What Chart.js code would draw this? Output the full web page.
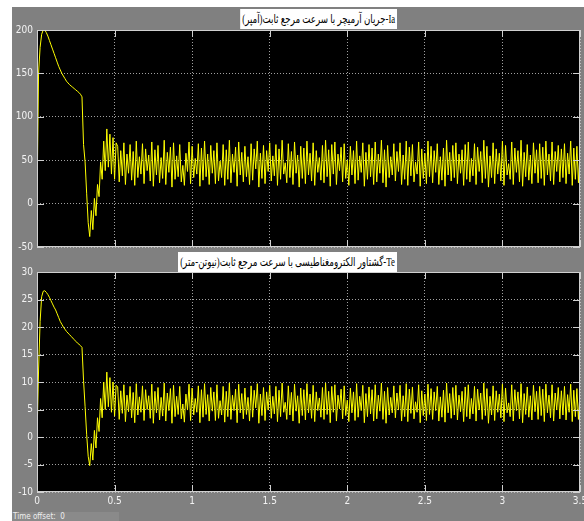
<!DOCTYPE html>
<html>
<head>
<meta charset="utf-8">
<script src="https://cdn.jsdelivr.net/npm/chart.js@4/dist/chart.umd.min.js"></script>
<style>
  body { margin: 0; width: 584px; height: 521px; background: #fff; overflow: hidden; position: relative; }
  #panel { position: absolute; left: 12px; top: 7px; width: 572px; height: 514px; background: #808080; }
  canvas { position: absolute; }
  #topCanvas { left: 12px; top: 7px; }
  #bottomCanvas { left: 12px; top: 257px; }
  .title { position: absolute; right: 187px; background: #fff; color: #000; height: 20px; line-height: 20px;
           font-family: "Liberation Serif", "DejaVu Sans", serif; font-size: 12px; white-space: nowrap; padding: 0 3px;
           transform-origin: right center; }
  #offset { position: absolute; left: 12px; top: 512px; width: 106px; height: 9px; background: #8a8a8a;
            color: #eee; font: 8px "DejaVu Sans Condensed", sans-serif; line-height: 9px; padding-left: 1px; }
</style>
</head>
<body>
<div id="panel"></div>
<canvas id="topCanvas" width="588" height="250"></canvas>
<canvas id="bottomCanvas" width="588" height="264"></canvas>
<div class="title" id="topTitle" dir="rtl" style="top:9px">Ia-جریان آرمیچر با سرعت مرجع ثابت(آمپر)</div>
<div class="title" id="bottomTitle" dir="rtl" style="top:252px">Te-گشتاور الکترومغناطیسی با سرعت مرجع ثابت(نیوتن-متر)</div>
<div id="offset">Time offset:&nbsp; 0</div>
<script>
// sample spacing of the scope traces (s)
const timeStep = 0.01;

// armature current Ia (A), one value per timeStep from t = 0
const currentIa = [
  0, 150, 180, 195, 200, 200, 197, 193, 188, 183,
  178, 173, 168, 163, 158, 154, 150, 147, 144, 141,
  139, 137, 135.5, 134, 132.5, 131, 129.5, 128, 126, 123,
  68, 48, 12, -22, -38, -8, -30, 6, -14, 22,
  8, 48, 28, 72, 38, 86, 42, 80, 34, 76,
  28, 70,
  66, 25, 61, 32, 70, 22, 57, 35, 68, 27,
  60, 21, 72, 30, 54, 34, 69, 23, 63, 38,
  56, 26, 71, 20, 62, 33, 67, 24, 53, 29,
  73, 22, 59, 36, 65, 19, 70, 28, 55, 31,
  68, 25, 44, 21, 58, 37, 71, 23, 66, 30,
  52, 34, 69, 20, 64, 27, 72, 31, 57, 22,
  67, 35, 61, 23, 70, 26, 49, 30, 68, 21,
  62, 28, 73, 24, 57, 36, 65, 20, 71, 33,
  59, 25, 66, 31, 54, 22, 69, 27, 63, 40,
  72, 19, 58, 29, 67, 23, 61, 37, 70, 26,
  55, 32, 68, 21, 63, 28, 73, 34, 47, 24,
  69, 30, 60, 22, 71, 35, 56, 19, 66, 29,
  64, 23, 72, 33, 58, 26, 70, 21, 61, 36,
  53, 27, 67, 24, 73, 31, 62, 20, 68, 34,
  71, 22, 57, 38, 65, 25, 69, 29, 50, 21,
  66, 33, 61, 23, 72, 27, 55, 36, 70, 20,
  59, 28, 68, 31, 64, 22, 71, 25, 57, 35,
  73, 24, 62, 19, 67, 30, 54, 33, 69, 26,
  60, 37, 70, 22, 56, 28, 72, 21, 65, 32,
  68, 25, 48, 34, 71, 20, 63, 29, 58, 23,
  72, 31, 66, 24, 61, 36, 69, 22, 54, 27,
  64, 20, 73, 33, 59, 26, 67, 30, 70, 23,
  57, 35, 62, 21, 68, 28, 71, 25, 52, 32,
  69, 22, 65, 37, 60, 24, 73, 29, 66, 19,
  55, 30, 70, 23, 63, 34, 58, 26, 72, 21,
  67, 33, 46, 28, 71, 22, 64, 36, 61, 25,
  73, 20, 59, 31, 68, 27, 56, 23, 70, 35,
  62, 24, 69, 29, 65, 21, 72, 33, 57, 26,
  71, 22, 60, 37, 67, 25, 63, 30, 69, 23,
  58, 34, 72, 21, 64, 28, 66, 24, 61
];

// electromagnetic torque Te (N.m), same time base
const torqueTe = [
  0, 12, 21, 25.5, 26.5, 26.6, 26.3, 25.9, 25.4, 24.8,
  24.2, 23.6, 23.1, 22.4, 21.7, 21.0, 20.5, 20.0, 19.6, 19.2,
  18.9, 18.6, 18.3, 18.0, 17.7, 17.4, 17.1, 16.9, 16.6, 16.3,
  10.3, 5.5, 0.5, -3.5, -5.2, -1.2, -4.2, 1.2, -2, 3.5,
  1, 7, 3.5, 10, 5, 11.8, 5.5, 10.8, 4.5, 10,
  3.8, 9.4,
  9.1, 3.2, 8.4, 4.3, 9.5, 2.8, 7.6, 4.6, 9.2, 3.5,
  8.1, 2.6, 9.7, 4.0, 7.3, 4.5, 9.3, 3.0, 8.6, 5.0,
  7.5, 3.4, 9.6, 2.5, 8.3, 4.4, 9.0, 3.1, 7.2, 3.8,
  9.8, 2.9, 8.0, 4.8, 8.8, 2.5, 9.4, 3.7, 7.4, 4.1,
  9.2, 3.3, 6.0, 2.7, 7.8, 4.9, 9.6, 3.0, 8.9, 4.0,
  7.0, 4.5, 9.3, 2.6, 8.6, 3.6, 9.7, 4.1, 7.7, 2.9,
  9.0, 4.7, 8.2, 3.0, 9.5, 3.4, 6.6, 4.0, 9.2, 2.7,
  8.3, 3.7, 9.8, 3.2, 7.6, 4.8, 8.7, 2.6, 9.6, 4.4,
  7.9, 3.3, 8.9, 4.1, 7.2, 2.9, 9.3, 3.6, 8.5, 5.3,
  9.7, 2.5, 7.8, 3.9, 9.0, 3.0, 8.2, 4.9, 9.4, 3.4,
  7.4, 4.2, 9.2, 2.8, 8.5, 3.7, 9.8, 4.5, 6.3, 3.2,
  9.3, 4.0, 8.1, 2.9, 9.6, 4.7, 7.5, 2.5, 8.9, 3.9,
  8.6, 3.1, 9.7, 4.4, 7.8, 3.4, 9.4, 2.8, 8.2, 4.8,
  7.1, 3.6, 9.0, 3.2, 9.8, 4.1, 8.3, 2.6, 9.2, 4.5,
  9.5, 2.9, 7.6, 5.1, 8.7, 3.3, 9.3, 3.9, 6.7, 2.8,
  8.9, 4.4, 8.2, 3.0, 9.7, 3.6, 7.4, 4.8, 9.4, 2.6,
  7.9, 3.7, 9.1, 4.2, 8.6, 2.9, 9.5, 3.3, 7.6, 4.7,
  9.8, 3.2, 8.3, 2.5, 9.0, 4.0, 7.2, 4.4, 9.3, 3.5,
  8.0, 4.9, 9.4, 2.9, 7.5, 3.7, 9.7, 2.8, 8.7, 4.3,
  9.1, 3.3, 6.4, 4.5, 9.5, 2.6, 8.4, 3.9, 7.8, 3.0,
  9.6, 4.1, 8.8, 3.2, 8.2, 4.8, 9.2, 2.9, 7.3, 3.6,
  8.5, 2.7, 9.8, 4.4, 7.9, 3.4, 9.0, 4.0, 9.4, 3.1,
  7.6, 4.6, 8.3, 2.8, 9.1, 3.7, 9.5, 3.3, 7.0, 4.2,
  9.2, 2.9, 8.7, 4.9, 8.0, 3.2, 9.8, 3.9, 8.8, 2.5,
  7.4, 4.0, 9.3, 3.0, 8.4, 4.5, 7.8, 3.5, 9.6, 2.8,
  8.9, 4.4, 6.2, 3.7, 9.5, 2.9, 8.6, 4.8, 8.2, 3.3,
  9.7, 2.6, 7.9, 4.1, 9.1, 3.6, 7.5, 3.1, 9.4, 4.6,
  8.3, 3.2, 9.2, 3.9, 8.7, 2.8, 9.6, 4.4, 7.6, 3.5,
  9.5, 2.9, 8.0, 4.9, 9.0, 3.3, 8.4, 4.0, 9.2, 3.1,
  7.7, 4.5, 9.6, 2.8, 8.5, 3.7, 8.8, 3.2, 8.1
];

// axis ranges as on the scope
const timeRange = [0, 3.5];
const iaRange = [-50, 200];
const teRange = [-10, 30];

const toPoints = function (values) {
    return values.map(function (v, i) { return { x: i * timeStep, y: v }; });
};

// squeeze the title boxes to the width they have on the scope
const fitTitle = function (id, width) {
    const el = document.getElementById(id);
    el.style.transform = 'scaleX(' + (width / el.offsetWidth) + ')';
};
fitTitle('topTitle', 157);
fitTitle('bottomTitle', 219);

// black plot area, light frame and inward tick marks like the scope
const scopeFrame = {
    id: 'scopeFrame',
    beforeDraw: function (chart) {
        const a = chart.chartArea;
        chart.ctx.save();
        chart.ctx.fillStyle = '#000';
        chart.ctx.fillRect(a.left, a.top, a.right - a.left, a.bottom - a.top);
        chart.ctx.restore();
    },
    afterDraw: function (chart) {
        const ctx = chart.ctx, a = chart.chartArea;
        ctx.save();
        ctx.strokeStyle = '#d0d0d0';
        ctx.lineWidth = 1;
        ctx.strokeRect(a.left + 0.5, a.top + 0.5, a.right - a.left - 1, a.bottom - a.top - 1);
        ctx.beginPath();
        chart.scales.x.ticks.forEach(function (t) {
            const px = Math.round(chart.scales.x.getPixelForValue(t.value)) + 0.5;
            ctx.moveTo(px, a.bottom); ctx.lineTo(px, a.bottom - 7);
            ctx.moveTo(px, a.top); ctx.lineTo(px, a.top + 7);
        });
        chart.scales.y.ticks.forEach(function (t) {
            const py = Math.round(chart.scales.y.getPixelForValue(t.value)) + 0.5;
            ctx.moveTo(a.left, py); ctx.lineTo(a.left + 7, py);
            ctx.moveTo(a.right, py); ctx.lineTo(a.right - 7, py);
        });
        ctx.stroke();
        ctx.restore();
    }
};

const tickFont = { family: "'Liberation Sans Narrow', 'DejaVu Sans Condensed', sans-serif", size: 10 };
const gridStyle = { color: 'rgba(200, 200, 200, 0.8)', drawTicks: false };

const drawScope = function (canvasId, values, yRange, yStep, showTimeLabels, padding) {
    return new Chart(document.getElementById(canvasId), {
        type: 'line',
        data: {
            datasets: [{
                data: toPoints(values),
                borderColor: '#ffff00',
                borderWidth: 1,
                pointRadius: 0,
                tension: 0
            }]
        },
        options: {
            responsive: false,
            animation: false,
            devicePixelRatio: 1,
            layout: { padding: padding },
            plugins: { legend: { display: false }, tooltip: { enabled: false } },
            scales: {
                x: {
                    type: 'linear',
                    min: timeRange[0],
                    max: timeRange[1],
                    grid: gridStyle,
                    border: { display: false, dash: [1, 2] },
                    ticks: {
                        display: showTimeLabels, stepSize: 0.5, color: '#f2f2f2', font: tickFont, padding: 3, maxRotation: 0,
                        callback: function (v) { return String(Number(v)); }
                    },
                    afterFit: function (s) { s.height = showTimeLabels ? 22 : 0; }
                },
                y: {
                    min: yRange[0],
                    max: yRange[1],
                    grid: gridStyle,
                    border: { display: false, dash: [1, 2] },
                    ticks: { stepSize: yStep, color: '#f2f2f2', font: tickFont, padding: 4 },
                    afterFit: function (s) { s.width = 25; }
                }
            }
        },
        plugins: [scopeFrame]
    });
};

drawScope('topCanvas', currentIa, iaRange, 50, false, { top: 23, right: 20, bottom: 7, left: 0 });
drawScope('bottomCanvas', torqueTe, teRange, 5, true, { top: 15, right: 20, bottom: 7, left: 0 });
</script>
</body>
</html>
